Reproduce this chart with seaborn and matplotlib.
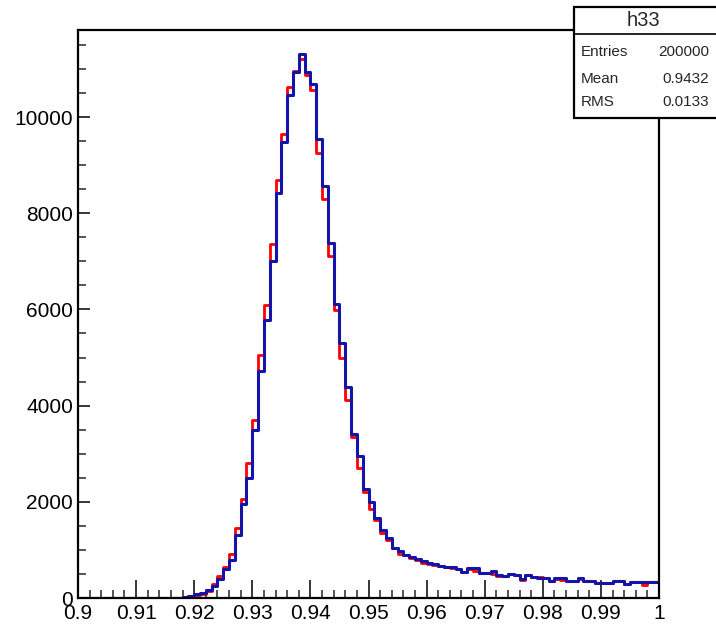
import numpy as np
import pandas as pd
import matplotlib
matplotlib.use("Agg")
import matplotlib.pyplot as plt
from matplotlib.patches import Rectangle
from matplotlib.lines import Line2D
from matplotlib.ticker import MultipleLocator, FuncFormatter
import seaborn as sns

# ----------------------------------------------
# data: 100 bins from 0.9 to 1.0 (bin width 0.001)
# ----------------------------------------------
x_min, x_max, n_bins = 0.9, 1.0, 100

blue_counts = [
    0, 0, 0, 0, 0, 0, 0, 0, 0, 0,
    0, 0, 0, 0, 0, 0, 0, 0, 20, 40,
    75, 95, 175, 250, 385, 600, 780, 1300, 1950, 2500,
    3490, 4720, 5790, 7010, 8420, 9480, 10450, 10940, 11320, 10940,
    10680, 9540, 8560, 7390, 6120, 5300, 4380, 3400, 2950, 2270,
    2000, 1660, 1410, 1240, 1050, 985, 895, 845, 805, 775,
    720, 705, 665, 650, 640, 595, 550, 615, 615, 515,
    515, 565, 480, 465, 490, 480, 385, 470, 430, 425,
    425, 360, 410, 410, 360, 360, 410, 345, 345, 310,
    310, 310, 360, 360, 285, 325, 325, 325, 325, 325,
]

red_counts = [
    0, 0, 0, 0, 0, 0, 0, 0, 0, 0,
    0, 0, 0, 0, 0, 0, 0, 0, 20, 40,
    60, 90, 150, 300, 455, 650, 915, 1450, 2060, 2800,
    3700, 5050, 6090, 7360, 8700, 9640, 10630, 10960, 11200, 10870,
    10570, 9260, 8290, 7110, 5990, 4980, 4120, 3350, 2700, 2210,
    1860, 1620, 1345, 1210, 1030, 915, 900, 840, 800, 735,
    700, 680, 660, 650, 630, 600, 550, 600, 560, 515,
    515, 500, 455, 460, 490, 480, 370, 470, 440, 440,
    420, 360, 400, 380, 360, 360, 400, 345, 345, 310,
    310, 310, 355, 360, 285, 325, 325, 270, 325, 325,
]

x_ticks = [0.9, 0.91, 0.92, 0.93, 0.94, 0.95, 0.96, 0.97, 0.98, 0.99, 1.0]
x_tick_labels = ["0.9", "0.91", "0.92", "0.93", "0.94", "0.95",
                 "0.96", "0.97", "0.98", "0.99", "1"]

stats_name = "h33"
stats_rows = [("Entries", "200000"), ("Mean", "0.9432"), ("RMS", "0.0133")]

edges = np.linspace(x_min, x_max, n_bins + 1)
centers = 0.5 * (edges[:-1] + edges[1:])
df = pd.DataFrame({"x": centers, "red": red_counts, "blue": blue_counts})

# ----------------------------------------------
# plot
# ----------------------------------------------
sns.set_style("ticks")
plt.rcParams["font.family"] = ["Liberation Sans", "DejaVu Sans"]

fig = plt.figure(figsize=(7.16, 6.28), dpi=100)
ax = fig.add_axes([78 / 716, 30 / 628, 581 / 716, 568 / 628])

sns.histplot(data=df, x="x", weights="red", bins=n_bins, binrange=(x_min, x_max),
             element="step", fill=False, color="#ff0000", linewidth=2.0, ax=ax)
sns.histplot(data=df, x="x", weights="blue", bins=n_bins, binrange=(x_min, x_max),
             element="step", fill=False, color="#1414a8", linewidth=2.2, ax=ax)

ax.set_xlim(x_min, x_max)
ax.set_ylim(0, 11810)
ax.set_xlabel("")
ax.set_ylabel("")

ax.set_xticks(x_ticks)
ax.set_xticklabels(x_tick_labels)
ax.xaxis.set_minor_locator(MultipleLocator(0.002))
ax.yaxis.set_major_locator(MultipleLocator(2000))
ax.yaxis.set_minor_locator(MultipleLocator(500))
ax.yaxis.set_major_formatter(FuncFormatter(lambda v, p: f"{int(v)}"))

ax.tick_params(axis="x", which="major", direction="in", length=13, width=1.1,
               pad=4, labelsize=15, colors="black")
ax.tick_params(axis="x", which="minor", direction="in", length=6, width=1.1)
ax.tick_params(axis="y", which="major", direction="in", length=8.5, width=1.1,
               pad=3.5, labelsize=15, colors="black")
ax.tick_params(axis="y", which="minor", direction="in", length=6, width=1.1)
ax.tick_params(top=False, right=False, which="both")

for s in ax.spines.values():
    s.set_visible(True)
    s.set_linewidth(1.6)
    s.set_color("black")

# ----------------------------------------------
# stats box (ROOT style), runs off the right edge like the original
# ----------------------------------------------
W, H = 716, 628
bx0, bx1, by0, by1, bdiv = 574, 722, 7, 118, 34
fx = lambda px: px / W
fy = lambda py: 1 - py / H

box = Rectangle((fx(bx0), fy(by1)), fx(bx1) - fx(bx0), fy(by0) - fy(by1),
                transform=fig.transFigure, facecolor="white", edgecolor="black",
                linewidth=1.6, zorder=5)
fig.patches.append(box)
fig.lines.append(Line2D([fx(bx0), fx(bx1)], [fy(bdiv), fy(bdiv)],
                        transform=fig.transFigure, color="black", lw=1.2, zorder=6))

fig.text(fx(643), fy(21), stats_name, ha="center", va="center",
         fontsize=14.5, zorder=7)
row_y = [52, 79, 102]
for (lab, val), ry in zip(stats_rows, row_y):
    fig.text(fx(581), fy(ry), lab, ha="left", va="center", fontsize=11, zorder=7)
    fig.text(fx(709), fy(ry), val, ha="right", va="center", fontsize=11, zorder=7)

fig.savefig("out.png", dpi=100)
